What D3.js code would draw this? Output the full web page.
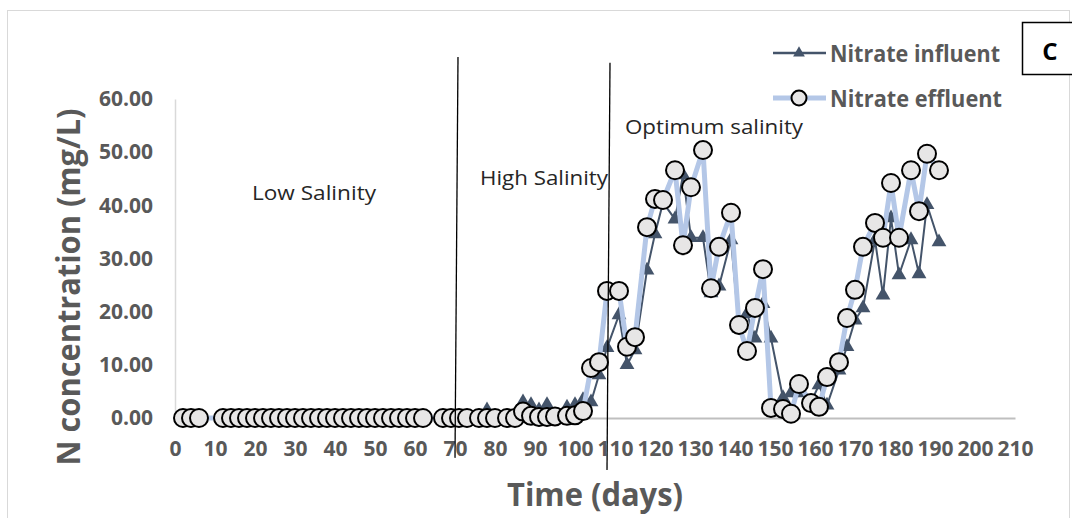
<!DOCTYPE html>
<html>
<head>
<meta charset="utf-8">
<script src="https://cdn.jsdelivr.net/npm/d3@7"></script>
<style>
  body { margin: 0; background: #fff; }
  svg { display: block; font-family: "Open Sans", sans-serif; }
</style>
</head>
<body>
<div id="chart"></div>
<script>
// sampling days (x values shared by both series)
const days = [
  2, 4, 6, 12, 14, 16, 18, 20, 22, 24, 26, 28, 30, 32, 34, 36, 38, 40, 42, 44,
  46, 48, 50, 52, 54, 56, 58, 60, 62, 67, 69, 71, 73, 76, 78, 80, 83, 85,
  87, 89, 91, 93, 95, 98, 100, 102,
  104, 106, 108, 111, 113, 115, 118, 120, 122, 125, 127, 129, 132, 134, 136, 139,
  141, 143, 145, 147, 149, 152, 154, 156, 159, 161, 163, 166, 168, 170, 172, 175,
  177, 179, 181, 184, 186, 188, 191
];

const influent = [
  0, 0, 0, 0, 0, 0, 0, 0, 0, 0, 0, 0, 0, 0, 0, 0, 0, 0, 0, 0,
  0, 0, 0, 0, 0, 0, 0, 0, 0, 0, 0, 0, 0, 0, 1.5, 0, 0, 0,
  3.0, 2.5, 1.5, 2.5, 0.5, 2.0, 2.5, 3.4,
  3.0, 8.1, 13.2, 19.4, 10.0, 12.8, 27.8, 34.6, 40.5, 37.4, 45.7, 33.9, 33.9, 23.5, 24.8, 33.5,
  16.9, 19.6, 15.0, 21.5, 15.0, 3.8, 4.7, 4.7, 3.0, 6.2, 2.4, 9.0, 13.4, 18.4, 20.7, 33.5,
  23.1, 37.6, 26.9, 33.5, 27.1, 40.1, 33.1
];

const effluent = [
  0, 0, 0, 0, 0, 0, 0, 0, 0, 0, 0, 0, 0, 0, 0, 0, 0, 0, 0, 0,
  0, 0, 0, 0, 0, 0, 0, 0, 0, 0, 0, 0, 0, 0, 0, 0, 0, 0,
  1.2, 0.4, 0.2, 0.2, 0.3, 0.4, 0.5, 1.3,
  9.4, 10.5, 23.9, 23.9, 13.4, 15.2, 35.9, 41.2, 41.0, 46.6, 32.5, 43.4, 50.4, 24.4, 32.2, 38.6,
  17.5, 12.6, 20.7, 28.0, 1.9, 1.7, 0.8, 6.4, 2.8, 2.1, 7.7, 10.5, 18.8, 24.1, 32.2, 36.7,
  33.9, 44.2, 33.9, 46.6, 38.9, 49.7, 46.6
];

const xTicks = [0, 10, 20, 30, 40, 50, 60, 70, 80, 90, 100, 110, 120, 130, 140, 150, 160, 170, 180, 190, 200, 210];
const yTicks = [0, 10, 20, 30, 40, 50, 60];

// phase boundaries drawn by hand in the original, in data units [day, value]
const phaseLines = [
  [[70.75, 67.9], [70.0, -7.5]],
  [[108.75, 66.8], [108.0, -9.8]]
];
const phaseLabels = ['Low Salinity', 'High Salinity', 'Optimum salinity'];

const width = 1072;
const height = 518;

const svg = d3.select('#chart')
  .append('svg')
  .attr('width', width)
  .attr('height', height);

// outer chart frame
svg.append('rect')
  .attr('x', 7.5)
  .attr('y', 10.5)
  .attr('width', 1062)
  .attr('height', 530)
  .attr('fill', 'none')
  .attr('stroke', '#d9d9d9');

const x = d3.scaleLinear().domain([0, 210]).range([175, 1015]);
const y = d3.scaleLinear().domain([0, 60]).range([418, 99]);

// y axis
const yAxis = svg.append('g')
  .attr('transform', `translate(${x(0)},0)`)
  .call(d3.axisLeft(y).tickValues(yTicks).tickFormat(d3.format('.2f')).tickSize(0).tickPadding(22));
yAxis.select('.domain').attr('stroke', '#d9d9d9').attr('stroke-width', 1.5);

// x axis sits on zero
const xAxis = svg.append('g')
  .attr('transform', `translate(0,${y(0)})`)
  .call(d3.axisBottom(x).tickValues(xTicks).tickFormat(d3.format('d')).tickSize(0).tickPadding(23));
xAxis.select('.domain').attr('stroke', '#bfbfbf').attr('stroke-width', 2);

svg.selectAll('.tick text')
  .attr('fill', '#595959')
  .style('font-size', '21px')
  .style('font-weight', 'bold')
  .style('font-family', '"Open Sans", sans-serif');

// axis titles
svg.append('text')
  .attr('x', 595)
  .attr('y', 506)
  .attr('text-anchor', 'middle')
  .attr('textLength', 176)
  .attr('lengthAdjust', 'spacingAndGlyphs')
  .style('font-size', '33px')
  .style('font-weight', 'bold')
  .attr('fill', '#595959')
  .text('Time (days)');

svg.append('text')
  .attr('transform', 'translate(80,287) rotate(-90)')
  .attr('text-anchor', 'middle')
  .attr('textLength', 357)
  .attr('lengthAdjust', 'spacingAndGlyphs')
  .style('font-size', '33px')
  .style('font-weight', 'bold')
  .attr('fill', '#595959')
  .text('N concentration (mg/L)');

const rows = days.map((d, i) => ({ day: d, inf: influent[i], eff: effluent[i] }));

const triangle = d3.symbol().type(d3.symbolTriangle).size(95);

// influent series
svg.append('path')
  .datum(rows)
  .attr('fill', 'none')
  .attr('stroke', '#44546a')
  .attr('stroke-width', 2)
  .attr('d', d3.line().x(d => x(d.day)).y(d => y(d.inf)));

svg.selectAll('.inf-marker')
  .data(rows)
  .enter().append('path')
  .attr('class', 'inf-marker')
  .attr('transform', d => `translate(${x(d.day)},${y(d.inf)})`)
  .attr('d', triangle)
  .attr('fill', '#44546a');

// effluent series
svg.append('path')
  .datum(rows)
  .attr('fill', 'none')
  .attr('stroke', '#b4c7e7')
  .attr('stroke-width', 5)
  .attr('stroke-linejoin', 'round')
  .attr('d', d3.line().x(d => x(d.day)).y(d => y(d.eff)));

svg.selectAll('.eff-marker')
  .data(rows)
  .enter().append('circle')
  .attr('class', 'eff-marker')
  .attr('cx', d => x(d.day))
  .attr('cy', d => y(d.eff))
  .attr('r', 9)
  .attr('fill', '#e7e6e6')
  .attr('stroke', '#000')
  .attr('stroke-width', 2);

// phase divider lines
svg.selectAll('.phase')
  .data(phaseLines)
  .enter().append('line')
  .attr('class', 'phase')
  .attr('x1', d => x(d[0][0]))
  .attr('y1', d => y(d[0][1]))
  .attr('x2', d => x(d[1][0]))
  .attr('y2', d => y(d[1][1]))
  .attr('stroke', '#000')
  .attr('stroke-width', 1.3);

const labelPos = [
  { x: 314, y: 200, w: 124 },
  { x: 544, y: 185, w: 128 },
  { x: 714, y: 134, w: 178 }
];

svg.selectAll('.phase-label')
  .data(phaseLabels)
  .enter().append('text')
  .attr('class', 'phase-label')
  .attr('x', (d, i) => labelPos[i].x)
  .attr('y', (d, i) => labelPos[i].y)
  .attr('text-anchor', 'middle')
  .attr('textLength', (d, i) => labelPos[i].w)
  .attr('lengthAdjust', 'spacingAndGlyphs')
  .style('font-size', '20px')
  .attr('fill', '#262626')
  .text(d => d);

// legend
const legend = svg.append('g').attr('class', 'legend');

const inRow = legend.append('g').attr('transform', 'translate(773,53)');
inRow.append('line').attr('x1', 0).attr('x2', 53).attr('stroke', '#44546a').attr('stroke-width', 2.5);
inRow.append('path').attr('transform', 'translate(26,0)')
  .attr('d', d3.symbol().type(d3.symbolTriangle).size(60)).attr('fill', '#44546a');
inRow.append('text').attr('x', 57).attr('y', 9)
  .attr('textLength', 170).attr('lengthAdjust', 'spacingAndGlyphs')
  .style('font-size', '23px').style('font-weight', 'bold').attr('fill', '#595959')
  .text('Nitrate influent');

const efRow = legend.append('g').attr('transform', 'translate(773,98)');
efRow.append('line').attr('x1', 0).attr('x2', 53).attr('stroke', '#b4c7e7').attr('stroke-width', 5);
efRow.append('circle').attr('cx', 26).attr('r', 7.5)
  .attr('fill', '#e7e6e6').attr('stroke', '#000').attr('stroke-width', 2);
efRow.append('text').attr('x', 57).attr('y', 9)
  .attr('textLength', 172).attr('lengthAdjust', 'spacingAndGlyphs')
  .style('font-size', '23px').style('font-weight', 'bold').attr('fill', '#595959')
  .text('Nitrate effluent');

// panel letter
svg.append('rect')
  .attr('x', 1022.5)
  .attr('y', 22.5)
  .attr('width', 60)
  .attr('height', 52)
  .attr('fill', '#fff')
  .attr('stroke', '#000')
  .attr('stroke-width', 1.5);

svg.append('text')
  .attr('x', 1050)
  .attr('y', 60)
  .attr('text-anchor', 'middle')
  .style('font-size', '24px')
  .style('font-weight', 'bold')
  .attr('fill', '#000')
  .text('C');
</script>
</body>
</html>
